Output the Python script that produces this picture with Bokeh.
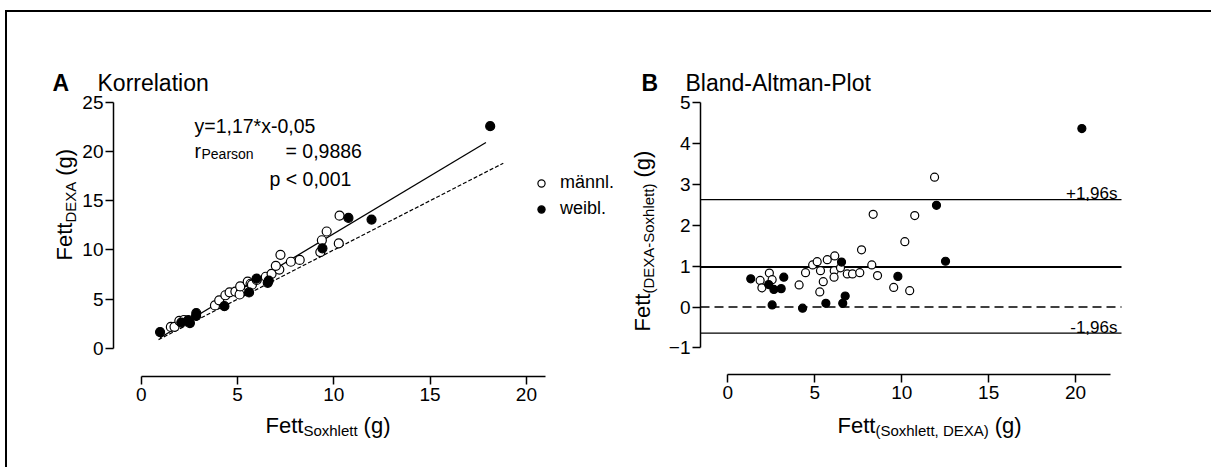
import math
from bokeh.plotting import figure
from bokeh.models import Range1d, FixedTicker, Label, Legend, LegendItem
from bokeh.layouts import row
from bokeh.embed import file_html
from bokeh.resources import INLINE

FONT = "Liberation Sans"

# ---------------- data ----------------
# Panel A: Korrelation (x = Fett Soxhlett, y = Fett DEXA)
sox_maennl = [1.54, 1.73, 1.98, 2.22, 3.83, 4.05, 4.37, 4.59, 4.89, 5.18, 5.11, 5.14, 5.53, 5.68,
              5.75, 6.00, 6.47, 6.77, 7.17, 6.99, 7.77, 8.23, 9.30, 10.26, 9.38, 9.63, 7.23, 10.30]
dexa_maennl = [2.19, 2.20, 2.81, 2.89, 4.37, 4.89, 5.40, 5.70, 5.78, 5.80, 5.48, 6.30, 6.78, 6.57,
               6.48, 6.96, 7.28, 7.58, 8.01, 8.39, 8.80, 8.99, 9.78, 10.66, 10.98, 11.87, 9.50, 13.48]
sox_weibl = [0.98, 2.86, 2.44, 2.85, 2.53, 4.32, 5.60, 6.57, 6.62, 5.99, 9.41, 11.96, 10.76, 18.12, 2.08]
dexa_weibl = [1.67, 3.59, 2.87, 3.30, 2.58, 4.29, 5.69, 6.66, 6.89, 7.09, 10.16, 13.08, 13.25, 22.55, 2.63]

reg_slope, reg_intercept = 1.17, -0.05
reg_x = [0.98, 17.9]
identity_x = [0.9, 18.8]

# Panel B: Bland-Altman (x = mean, y = DEXA - Soxhlett)
ba_mean_maennl = [1.86, 1.96, 2.39, 2.55, 4.10, 4.47, 4.88, 5.14, 5.33, 5.49, 5.29, 5.72, 6.15, 6.12,
                  6.11, 6.48, 6.87, 7.17, 7.59, 7.69, 8.28, 8.61, 9.54, 10.46, 10.18, 10.75, 8.36, 11.89]
ba_diff_maennl = [0.65, 0.47, 0.83, 0.67, 0.54, 0.84, 1.03, 1.11, 0.89, 0.62, 0.37, 1.16, 1.25, 0.89,
                  0.73, 0.96, 0.81, 0.81, 0.84, 1.40, 1.03, 0.77, 0.48, 0.40, 1.60, 2.24, 2.27, 3.18]
ba_mean_weibl = [1.32, 3.22, 2.65, 3.07, 2.55, 4.30, 5.64, 6.61, 6.75, 6.54, 9.78, 12.52, 12.00, 20.36, 2.35]
ba_diff_weibl = [0.69, 0.73, 0.43, 0.45, 0.05, -0.03, 0.09, 0.09, 0.27, 1.10, 0.75, 1.12, 2.49, 4.37, 0.55]

ba_bias = 0.98
ba_upper = 2.63
ba_lower = -0.64

a_xticks = [0, 5, 10, 15, 20]
a_yticks = [0, 5, 10, 15, 20, 25]
b_xticks = [0, 5, 10, 15, 20]
b_yticks = [-1, 0, 1, 2, 3, 4, 5]

# ---------------- layout (page pixels) ----------------
OX, OY = 7, 12            # canvas origin on the page (after the css frame border)
H = 455
WA, WB = 621, 583
A_LEFT, A_BOTTOM = 113, 376   # page position of panel A axes
B_LEFT, B_RIGHT, B_BOTTOM = 700, 1121, 374
XLABEL_BASE = 425

# pixel calibration of the reference axes
A_X0, A_KX = 140.7, 19.26
A_Y0, A_KY = 348.0, 9.857
B_X0, B_KX = 727.3, 17.39
B_Y0, B_KY = 306.5, 40.83

CW = {'F': 611, 'e': 556, 't': 278, ' ': 278, '(': 333, ')': 333, 'g': 556, 'S': 667, 'o': 556,
      'x': 500, 'h': 556, 'l': 222, 'D': 722, 'E': 667, 'X': 667, 'A': 667, '-': 333, ',': 278}


def tw(s, size):
    return sum(CW.get(c, 556) for c in s) * size / 1000.0


def make_fig(width, left_px, x0, kx, y0, ky):
    xr = Range1d((left_px - x0) / kx, (left_px + width - x0) / kx)
    yr = Range1d((y0 - (OY + H)) / ky, (y0 - OY) / ky)
    p = figure(width=width, height=H, x_range=xr, y_range=yr,
               output_backend="svg", toolbar_location=None, title=None, min_border=0)
    p.grid.visible = False
    p.outline_line_color = None
    p.background_fill_color = "white"
    p.border_fill_color = "white"
    return p


def style_axes(p, xt, yt, xb, yb, xloc, yloc):
    xa, ya = p.xaxis[0], p.yaxis[0]
    xa.ticker = FixedTicker(ticks=xt)
    ya.ticker = FixedTicker(ticks=yt)
    xa.bounds = xb
    ya.bounds = yb
    xa.fixed_location = xloc
    ya.fixed_location = yloc
    for ax in (xa, ya):
        ax.axis_line_color = "black"
        ax.axis_line_width = 1.5
        ax.major_tick_line_color = "black"
        ax.major_tick_line_width = 1.5
        ax.major_tick_in = 0
        ax.major_tick_out = 8
        ax.minor_tick_in = 0
        ax.minor_tick_out = 0
        ax.major_label_text_font = FONT
        ax.major_label_text_font_size = "19px"
        ax.major_label_text_color = "black"
    xa.major_label_standoff = 3
    ya.major_label_standoff = 2


def lab(p, cx, px, py, text, size, bold=False, angle=0.0, align="left"):
    p.add_layout(Label(x=px - cx, y=(OY + H) - py, x_units="screen", y_units="screen", text=text,
                       text_font=FONT, text_font_size=f"{size}px",
                       text_font_style="bold" if bold else "normal",
                       text_baseline="alphabetic", text_align=align, angle=angle,
                       text_color="black"))


def chain(p, cx, px, py, parts, rotated=False):
    # parts: (text, font size, baseline shift, gap before)
    pos = 0.0
    for text, size, dy, gap in parts:
        pos += gap
        if rotated:
            lab(p, cx, px + dy, py - pos, text, size, angle=math.pi / 2)
        else:
            lab(p, cx, px + pos, py + dy, text, size)
        pos += tw(text, size)


# ---------------- panel A ----------------
A_CX = OX
pA = make_fig(WA, A_CX, A_X0, A_KX, A_Y0, A_KY)
style_axes(pA, a_xticks, a_yticks, (0, 21), (0, 25),
           (A_Y0 - A_BOTTOM) / A_KY, (A_LEFT - A_X0) / A_KX)

pA.line(identity_x, identity_x, line_color="black", line_width=1.2, line_dash="4 2")
pA.line(reg_x, [reg_slope * v + reg_intercept for v in reg_x], line_color="black", line_width=1.3)
rA_m = pA.scatter(sox_maennl, dexa_maennl, marker="circle", size=9, fill_color="white",
                  line_color="black", line_width=1.2)
rA_w = pA.scatter(sox_weibl, dexa_weibl, marker="circle", size=9, fill_color="black",
                  line_color="black", line_width=1.2)

legend = Legend(items=[LegendItem(label="männl.", renderers=[rA_m]),
                       LegendItem(label="weibl.", renderers=[rA_w])],
                location=(532 - A_CX, (OY + H) - 219), padding=0, margin=0, spacing=5,
                glyph_width=18, glyph_height=20, label_height=20, label_standoff=10,
                label_text_font=FONT, label_text_font_size="18px", label_text_color="black",
                border_line_color=None, background_fill_alpha=0)
pA.add_layout(legend)

lab(pA, A_CX, 52, 82, "A", 23, bold=True)
lab(pA, A_CX, 97, 82, "Korrelation", 23)
lab(pA, A_CX, 194, 125, "y=1,17*x-0,05", 19.5)
lab(pA, A_CX, 194, 150, "r", 19.5)
lab(pA, A_CX, 201, 153.5, "Pearson", 14)
lab(pA, A_CX, 285, 150, "= 0,9886", 19.5)
lab(pA, A_CX, 269, 178, "p < 0,001", 19.5)
chain(pA, A_CX, 265, XLABEL_BASE, [("Fett", 22, 0, 0), ("Soxhlett", 15, 5, 0), ("(g)", 22, 0, 6)])
chain(pA, A_CX, 64, 260, [("Fett", 22, 0, 0), ("DEXA", 15, 6, 0), ("(g)", 22, 0, 6)], rotated=True)

# ---------------- panel B ----------------
B_CX = OX + WA
pB = make_fig(WB, B_CX, B_X0, B_KX, B_Y0, B_KY)
b_axis_x = (B_LEFT - B_X0) / B_KX
b_line_end = (B_RIGHT - B_X0) / B_KX
style_axes(pB, b_xticks, b_yticks, (0, 22), (-1, 5), (B_Y0 - B_BOTTOM) / B_KY, b_axis_x)

ref_x = [b_axis_x, b_line_end]
pB.line(ref_x, [0, 0], line_color="black", line_width=1.5, line_dash="9 5")
pB.line(ref_x, [ba_bias, ba_bias], line_color="black", line_width=2.2)
pB.line(ref_x, [ba_upper, ba_upper], line_color="black", line_width=1.2)
pB.line(ref_x, [ba_lower, ba_lower], line_color="black", line_width=1.2)
pB.scatter(ba_mean_maennl, ba_diff_maennl, marker="circle", size=8, fill_color="white",
           line_color="black", line_width=1.2)
pB.scatter(ba_mean_weibl, ba_diff_weibl, marker="circle", size=8, fill_color="black",
           line_color="black", line_width=1.2)

lab(pB, B_CX, 641, 82, "B", 23, bold=True)
lab(pB, B_CX, 685, 82, "Bland-Altman-Plot", 23)
lab(pB, B_CX, 1117, 193, "+1,96s", 17, align="right")
lab(pB, B_CX, 1117, 327, "-1,96s", 17, align="right")
chain(pB, B_CX, 837, XLABEL_BASE, [("Fett", 22, 0, 0), ("(Soxhlett, DEXA)", 15, 5, 0), ("(g)", 22, 0, 6)])
chain(pB, B_CX, 642, 331, [("Fett", 22, 0, 0), ("(DEXA-Soxhlett)", 15, 6, 0), ("(g)", 22, 0, 6)],
      rotated=True)

layout = row(pA, pB, styles={"border-left": "2px solid black", "border-top": "2px solid black",
                             "margin-left": "5px", "margin-top": "10px"})

with open("out.html", "w", encoding="utf-8") as f:
    f.write(file_html(layout, INLINE, title="Fett DEXA vs Soxhlett"))
